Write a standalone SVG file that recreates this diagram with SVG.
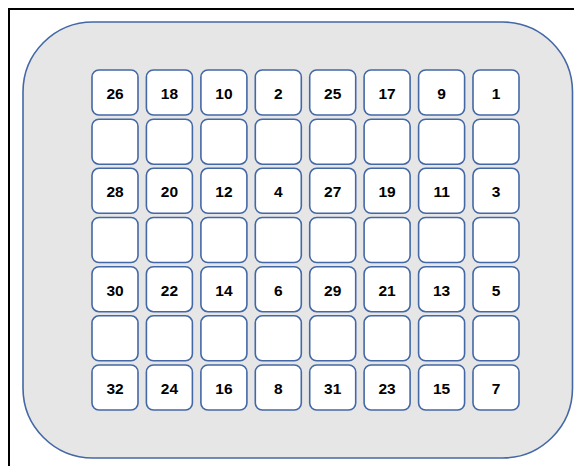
<svg xmlns="http://www.w3.org/2000/svg" width="574" height="466" viewBox="0 0 574 466">
<style>
.cell{fill:#fff;stroke:#4468a6;stroke-width:1.6}
.lbl{font-family:"Liberation Sans",Arial,sans-serif;font-weight:bold;font-size:15.5px;fill:#000;text-anchor:middle}
</style>
<rect x="0" y="0" width="574" height="466" fill="#fff"/>
<path d="M9 466 V9 H574" fill="none" stroke="#000" stroke-width="2"/>
<rect id="tray" x="23" y="22" width="549.5" height="436" rx="70" ry="70" fill="#e6e6e6" stroke="#4468a6" stroke-width="1.6"/>
<defs><rect id="c" width="46" height="45" rx="7" ry="7" class="cell"/></defs>
<g id="row1">
<g id="n26"><use href="#c" x="92" y="70"/><text class="lbl" x="115" y="99">26</text></g>
<g id="n18"><use href="#c" x="146.4" y="70"/><text class="lbl" x="169.4" y="99">18</text></g>
<g id="n10"><use href="#c" x="200.9" y="70"/><text class="lbl" x="223.9" y="99">10</text></g>
<g id="n2"><use href="#c" x="255.3" y="70"/><text class="lbl" x="278.3" y="99">2</text></g>
<g id="n25"><use href="#c" x="309.7" y="70"/><text class="lbl" x="332.7" y="99">25</text></g>
<g id="n17"><use href="#c" x="364.1" y="70"/><text class="lbl" x="387.1" y="99">17</text></g>
<g id="n9"><use href="#c" x="418.6" y="70"/><text class="lbl" x="441.6" y="99">9</text></g>
<g id="n1"><use href="#c" x="473" y="70"/><text class="lbl" x="496" y="99">1</text></g>
</g>
<g id="row2">
<use href="#c" x="92" y="119.2"/><use href="#c" x="146.4" y="119.2"/><use href="#c" x="200.9" y="119.2"/><use href="#c" x="255.3" y="119.2"/><use href="#c" x="309.7" y="119.2"/><use href="#c" x="364.1" y="119.2"/><use href="#c" x="418.6" y="119.2"/><use href="#c" x="473" y="119.2"/>
</g>
<g id="row3">
<g id="n28"><use href="#c" x="92" y="168.3"/><text class="lbl" x="115" y="197.3">28</text></g>
<g id="n20"><use href="#c" x="146.4" y="168.3"/><text class="lbl" x="169.4" y="197.3">20</text></g>
<g id="n12"><use href="#c" x="200.9" y="168.3"/><text class="lbl" x="223.9" y="197.3">12</text></g>
<g id="n4"><use href="#c" x="255.3" y="168.3"/><text class="lbl" x="278.3" y="197.3">4</text></g>
<g id="n27"><use href="#c" x="309.7" y="168.3"/><text class="lbl" x="332.7" y="197.3">27</text></g>
<g id="n19"><use href="#c" x="364.1" y="168.3"/><text class="lbl" x="387.1" y="197.3">19</text></g>
<g id="n11"><use href="#c" x="418.6" y="168.3"/><text class="lbl" x="441.6" y="197.3">11</text></g>
<g id="n3"><use href="#c" x="473" y="168.3"/><text class="lbl" x="496" y="197.3">3</text></g>
</g>
<g id="row4">
<use href="#c" x="92" y="217.5"/><use href="#c" x="146.4" y="217.5"/><use href="#c" x="200.9" y="217.5"/><use href="#c" x="255.3" y="217.5"/><use href="#c" x="309.7" y="217.5"/><use href="#c" x="364.1" y="217.5"/><use href="#c" x="418.6" y="217.5"/><use href="#c" x="473" y="217.5"/>
</g>
<g id="row5">
<g id="n30"><use href="#c" x="92" y="266.7"/><text class="lbl" x="115" y="295.7">30</text></g>
<g id="n22"><use href="#c" x="146.4" y="266.7"/><text class="lbl" x="169.4" y="295.7">22</text></g>
<g id="n14"><use href="#c" x="200.9" y="266.7"/><text class="lbl" x="223.9" y="295.7">14</text></g>
<g id="n6"><use href="#c" x="255.3" y="266.7"/><text class="lbl" x="278.3" y="295.7">6</text></g>
<g id="n29"><use href="#c" x="309.7" y="266.7"/><text class="lbl" x="332.7" y="295.7">29</text></g>
<g id="n21"><use href="#c" x="364.1" y="266.7"/><text class="lbl" x="387.1" y="295.7">21</text></g>
<g id="n13"><use href="#c" x="418.6" y="266.7"/><text class="lbl" x="441.6" y="295.7">13</text></g>
<g id="n5"><use href="#c" x="473" y="266.7"/><text class="lbl" x="496" y="295.7">5</text></g>
</g>
<g id="row6">
<use href="#c" x="92" y="315.8"/><use href="#c" x="146.4" y="315.8"/><use href="#c" x="200.9" y="315.8"/><use href="#c" x="255.3" y="315.8"/><use href="#c" x="309.7" y="315.8"/><use href="#c" x="364.1" y="315.8"/><use href="#c" x="418.6" y="315.8"/><use href="#c" x="473" y="315.8"/>
</g>
<g id="row7">
<g id="n32"><use href="#c" x="92" y="365"/><text class="lbl" x="115" y="394">32</text></g>
<g id="n24"><use href="#c" x="146.4" y="365"/><text class="lbl" x="169.4" y="394">24</text></g>
<g id="n16"><use href="#c" x="200.9" y="365"/><text class="lbl" x="223.9" y="394">16</text></g>
<g id="n8"><use href="#c" x="255.3" y="365"/><text class="lbl" x="278.3" y="394">8</text></g>
<g id="n31"><use href="#c" x="309.7" y="365"/><text class="lbl" x="332.7" y="394">31</text></g>
<g id="n23"><use href="#c" x="364.1" y="365"/><text class="lbl" x="387.1" y="394">23</text></g>
<g id="n15"><use href="#c" x="418.6" y="365"/><text class="lbl" x="441.6" y="394">15</text></g>
<g id="n7"><use href="#c" x="473" y="365"/><text class="lbl" x="496" y="394">7</text></g>
</g>
<g id="connectors"/>
</svg>
